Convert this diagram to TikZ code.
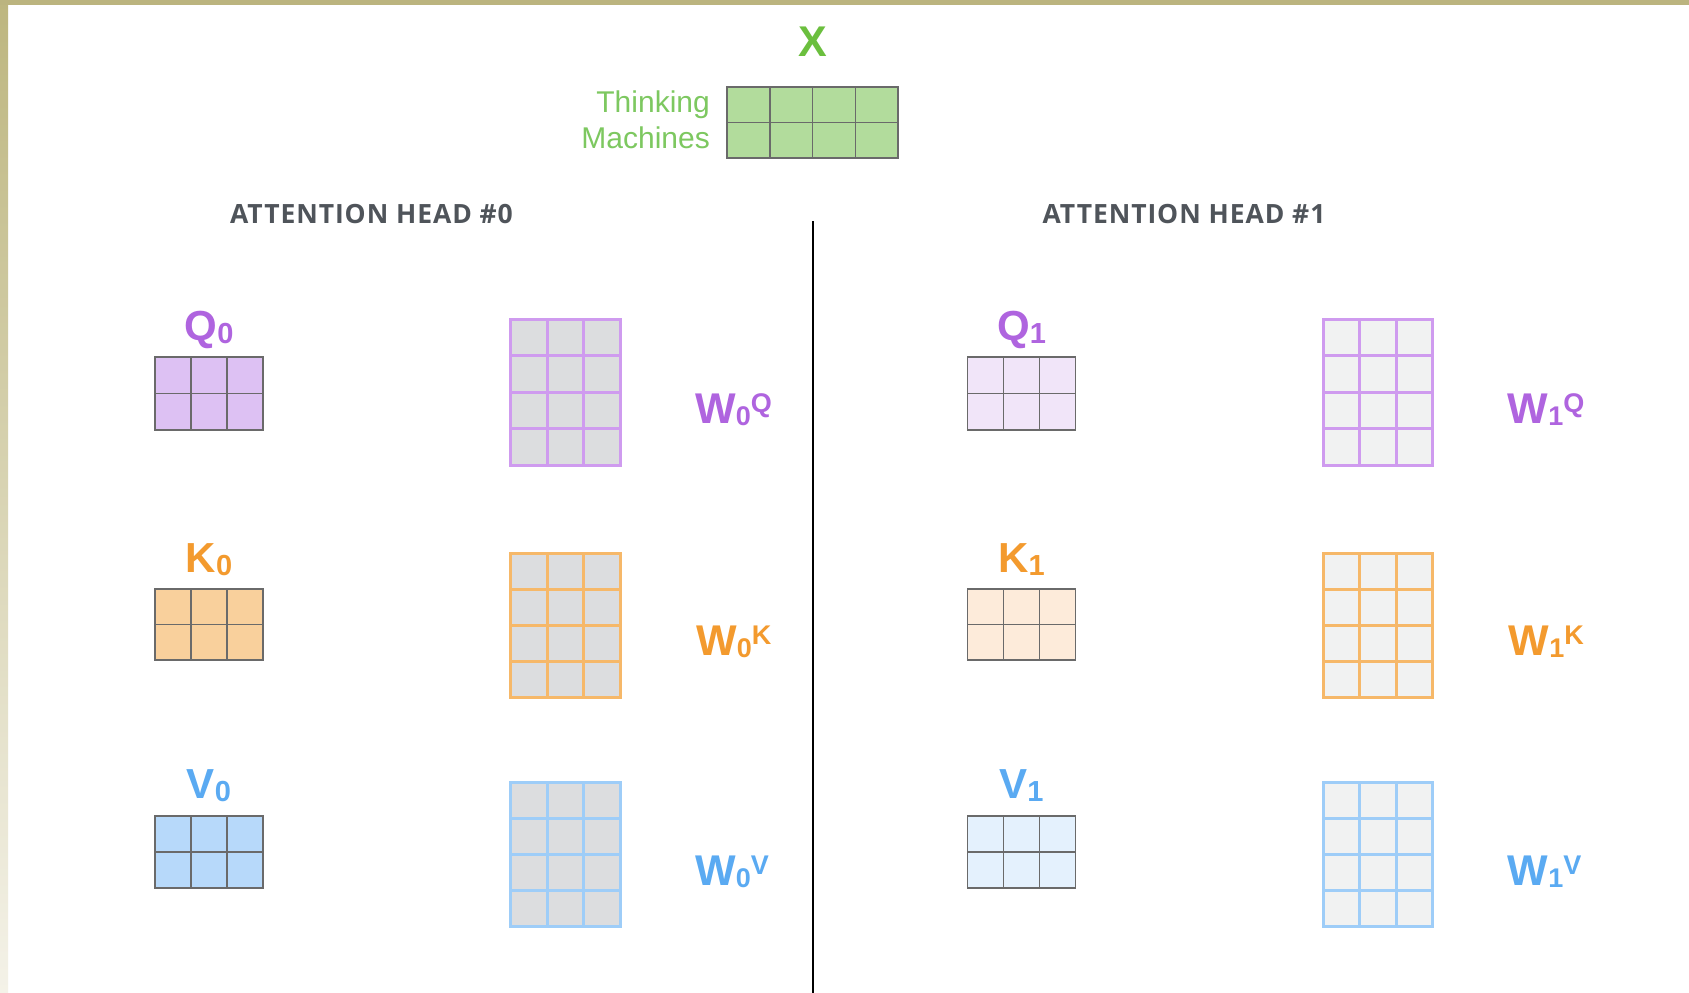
\documentclass[tikz,border=0pt]{standalone}
\usepackage{fontspec}
\setmainfont{Liberation Sans}
\newfontfamily\headfont[LetterSpace=3.5]{Open Sans}
\usetikzlibrary{calc}
\definecolor{framecol}{HTML}{BBB47F}
\definecolor{frametop}{HTML}{BDB67F}
\definecolor{framebot}{HTML}{F4F2E8}
\definecolor{xgreen}{HTML}{6BBF3E}
\definecolor{tgreen}{HTML}{7DC860}
\definecolor{xfill}{HTML}{B2DC9C}
\definecolor{mgray}{HTML}{6A6A6A}
\definecolor{qcol}{HTML}{AF64DF}
\definecolor{kcol}{HTML}{F39A2E}
\definecolor{vcol}{HTML}{5AAAF2}
\definecolor{qfillA}{HTML}{DDC1F3}
\definecolor{qfillB}{HTML}{F1E5F9}
\definecolor{kfillA}{HTML}{F9D09C}
\definecolor{kfillB}{HTML}{FDEBDA}
\definecolor{vfillA}{HTML}{B7D9FA}
\definecolor{vfillB}{HTML}{E4F1FD}
\definecolor{qborder}{HTML}{CF9BEF}
\definecolor{kborder}{HTML}{F6B869}
\definecolor{vborder}{HTML}{9ECDF8}
\definecolor{wfillA}{HTML}{DCDDDF}
\definecolor{wfillB}{HTML}{F1F2F2}
\definecolor{headcol}{HTML}{4F545A}

% #1 name, #2 fill, #3 line colour, #4 line width, #5 centre, #6 cols, #7 rows, #8 cell w, #9 cell h
\newcommand\drawmat[9]{%
  \node[fill=#2, draw=#3, line width=#4, minimum width=#6*#8, minimum height=#7*#9,
        inner sep=0pt, outer sep=0pt] (#1) at #5 {};
  \pgfmathtruncatemacro\mcols{#6-1}%
  \pgfmathtruncatemacro\mrows{#7-1}%
  \foreach \i in {1,...,\mcols}
    \draw[draw=#3, line width=#4] ($(#1.north west)+(\i*#8,0)$) -- ($(#1.south west)+(\i*#8,0)$);
  \foreach \j in {1,...,\mrows}
    \draw[draw=#3, line width=#4] ($(#1.north west)+(0,\j*#9)$) -- ($(#1.north east)+(0,\j*#9)$);
}
\newcommand\sm[2]{#1\raisebox{-3pt}{\fontsize{29}{29}\selectfont #2}}
\newcommand\wl[2]{W\raisebox{-2pt}{\fontsize{27}{27}\selectfont #1}\raisebox{11pt}{\fontsize{27}{27}\selectfont #2}}

\tikzset{
  lbl/.style={inner sep=0pt, font=\bfseries\fontsize{42}{42}\selectfont},
  wlbl/.style={inner sep=0pt, anchor=base west, font=\bfseries\fontsize{43}{43}\selectfont},
  headlbl/.style={inner sep=0pt, anchor=base, text=headcol, font=\headfont\bfseries\fontsize{26.5}{26.5}\selectfont},
  divider/.style={draw=black, line width=2pt}
}

\begin{document}
\begin{tikzpicture}[x=1pt,y=-1pt]
\useasboundingbox (0,0) rectangle (1689,993);
\fill[white] (0,0) rectangle (1689,993);
% frame
\shade[top color=frametop, bottom color=framebot] (0,0) rectangle (8,993);
\fill[framecol] (0,0) rectangle (1689,5);

% input X
\node[inner sep=0pt, anchor=base, text=xgreen, font=\bfseries\fontsize{43}{43}\selectfont] (Xl) at (813,56) {X};
\drawmat{X}{xfill}{mgray}{1.5pt}{(812.5,122.5)}{4}{2}{42.75}{35.5}
\node[inner sep=0pt, anchor=base east, text=tgreen, font=\fontsize{30}{30}\selectfont] (t1) at (710,112) {Thinking};
\node[inner sep=0pt, anchor=base east, text=tgreen, font=\fontsize{30}{30}\selectfont] (t2) at (710,148) {Machines};

% headings
\node[headlbl] (h0) at (371.5,223) {ATTENTION HEAD \#0};
\node[headlbl] (h1) at (1184,223) {ATTENTION HEAD \#1};

% divider
\coordinate (dtop) at (813,221);
\coordinate (dbot) at (813,993);
\draw[divider] (dtop) -- (dbot);

% head 0
\node[lbl, anchor=base, text=qcol] (lQ0) at (209,340) {\sm{Q}{0}};
\drawmat{Q0}{qfillA}{mgray}{1.5pt}{(209,393.5)}{3}{2}{36}{36.5}
\drawmat{WQ0}{wfillA}{qborder}{3pt}{(565.5,392)}{3}{4}{36.5}{36.5}
\node[wlbl, text=qcol] (lWQ0) at (695,423) {\wl{0}{Q}};

\node[lbl, anchor=base, text=kcol] (lK0) at (209,572) {\sm{K}{0}};
\drawmat{K0}{kfillA}{mgray}{1.5pt}{(209,624.5)}{3}{2}{36}{35.5}
\drawmat{WK0}{wfillA}{kborder}{3pt}{(565.5,625)}{3}{4}{36.5}{36}
\node[wlbl, text=kcol] (lWK0) at (696,655) {\wl{0}{K}};

\node[lbl, anchor=base, text=vcol] (lV0) at (209,798) {\sm{V}{0}};
\drawmat{V0}{vfillA}{mgray}{1.5pt}{(209,852)}{3}{2}{36}{36}
\drawmat{WV0}{wfillA}{vborder}{3pt}{(565.5,854)}{3}{4}{36.5}{36}
\node[wlbl, text=vcol] (lWV0) at (695,885) {\wl{0}{V}};

% head 1
\node[lbl, anchor=base, text=qcol] (lQ1) at (1021.5,340) {\sm{Q}{1}};
\drawmat{Q1}{qfillB}{mgray}{1.5pt}{(1021.5,393.5)}{3}{2}{36}{36.5}
\drawmat{WQ1}{wfillB}{qborder}{3pt}{(1378,392)}{3}{4}{36.5}{36.5}
\node[wlbl, text=qcol] (lWQ1) at (1507.5,423) {\wl{1}{Q}};

\node[lbl, anchor=base, text=kcol] (lK1) at (1021.5,572) {\sm{K}{1}};
\drawmat{K1}{kfillB}{mgray}{1.5pt}{(1021.5,624.5)}{3}{2}{36}{35.5}
\drawmat{WK1}{wfillB}{kborder}{3pt}{(1378,625)}{3}{4}{36.5}{36}
\node[wlbl, text=kcol] (lWK1) at (1508.5,655) {\wl{1}{K}};

\node[lbl, anchor=base, text=vcol] (lV1) at (1021.5,798) {\sm{V}{1}};
\drawmat{V1}{vfillB}{mgray}{1.5pt}{(1021.5,852)}{3}{2}{36}{36}
\drawmat{WV1}{wfillB}{vborder}{3pt}{(1378,854)}{3}{4}{36.5}{36}
\node[wlbl, text=vcol] (lWV1) at (1507.5,885) {\wl{1}{V}};
\end{tikzpicture}
\end{document}
